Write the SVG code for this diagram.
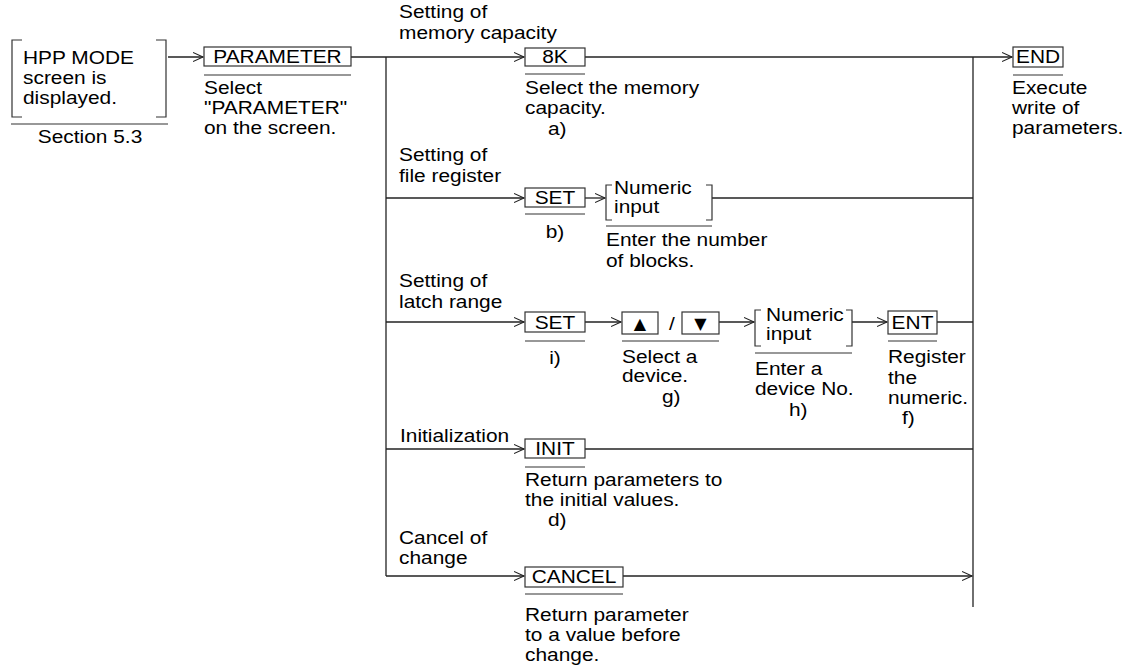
<svg xmlns="http://www.w3.org/2000/svg" width="1131" height="666" viewBox="0 0 1131 666">
<defs>
<style>
.t{font-family:"Liberation Sans",Arial,sans-serif;font-size:18.5px;fill:#000}
.m{text-anchor:middle}
.sym{font-family:"DejaVu Sans",sans-serif;font-size:16px;fill:#000;text-anchor:middle}
.box{fill:#fff;stroke:#333;stroke-width:1.2}
.ul{stroke:#333;stroke-width:1.2;fill:none}
.br{fill:none;stroke:#333;stroke-width:1.2}
.c{stroke:#222;stroke-width:1.3;fill:none}
</style>
<marker id="ah" markerWidth="12" markerHeight="12" refX="10" refY="6" orient="auto" markerUnits="userSpaceOnUse">
<path d="M0,1.5 L10,6 L0,10.5" fill="none" stroke="#222" stroke-width="1.1"/>
</marker>
</defs>
<rect width="1131" height="666" fill="#fff"/>

<g id="connectors">
<line class="c" x1="168" y1="57" x2="203" y2="57" marker-end="url(#ah)"/>
<line class="c" x1="351" y1="57" x2="524" y2="57" marker-end="url(#ah)"/>
<line class="c" x1="386" y1="57" x2="386" y2="576"/>
<line class="c" x1="585" y1="57" x2="1012" y2="57" marker-end="url(#ah)"/>
<line class="c" x1="973" y1="57" x2="973" y2="607"/>
<line class="c" x1="386" y1="198" x2="524" y2="198" marker-end="url(#ah)"/>
<line class="c" x1="585" y1="198" x2="605" y2="198" marker-end="url(#ah)"/>
<line class="c" x1="712" y1="198" x2="973" y2="198"/>
<line class="c" x1="386" y1="322" x2="524" y2="322" marker-end="url(#ah)"/>
<line class="c" x1="585" y1="322" x2="621" y2="322" marker-end="url(#ah)"/>
<line class="c" x1="719" y1="322" x2="754" y2="322" marker-end="url(#ah)"/>
<line class="c" x1="852" y1="322" x2="887" y2="322" marker-end="url(#ah)"/>
<line class="c" x1="937" y1="322" x2="973" y2="322"/>
<line class="c" x1="386" y1="449" x2="524" y2="449" marker-end="url(#ah)"/>
<line class="c" x1="585" y1="449" x2="973" y2="449"/>
<line class="c" x1="386" y1="576" x2="524" y2="576" marker-end="url(#ah)"/>
<line class="c" x1="623" y1="576" x2="972" y2="576" marker-end="url(#ah)"/>
</g>

<g id="branch-labels">
<text class="t" transform="translate(399,18) scale(1.13 1)"><tspan x="0">Setting of</tspan><tspan x="0" dy="21">memory capacity</tspan></text>
<text class="t" transform="translate(399,161) scale(1.13 1)"><tspan x="0">Setting of</tspan><tspan x="0" dy="21">file register</tspan></text>
<text class="t" transform="translate(399,287) scale(1.13 1)"><tspan x="0">Setting of</tspan><tspan x="0" dy="21">latch range</tspan></text>
<text class="t" transform="translate(400,442) scale(1.13 1)">Initialization</text>
<text class="t" transform="translate(399,544) scale(1.13 1)"><tspan x="0">Cancel of</tspan><tspan x="0" dy="20">change</tspan></text>
</g>

<g id="hpp">
<path class="br" d="M22,40 H12 V117 H22 M156,40 H166 V117 H156"/>
<line class="ul" x1="11" y1="124" x2="168" y2="124"/>
<text class="t" transform="translate(23,64) scale(1.13 1)"><tspan x="0">HPP MODE</tspan><tspan x="0" dy="20">screen is</tspan><tspan x="0" dy="20">displayed.</tspan></text>
<text class="t m" transform="translate(90,143) scale(1.13 1)">Section 5.3</text>
</g>

<g id="parameter">
<rect class="box" x="204" y="47" width="147" height="19"/>
<line class="ul" x1="204" y1="75" x2="351" y2="75"/>
<text class="t m" transform="translate(277.5,63) scale(1.13 1)">PARAMETER</text>
<text class="t" transform="translate(204,94) scale(1.13 1)"><tspan x="0">Select</tspan><tspan x="0" dy="20">"PARAMETER"</tspan><tspan x="0" dy="20">on the screen.</tspan></text>
</g>

<g id="k8">
<rect class="box" x="525" y="48" width="60" height="18"/>
<line class="ul" x1="525" y1="74" x2="585" y2="74"/>
<text class="t m" transform="translate(555,63) scale(1.13 1)">8K</text>
<text class="t" transform="translate(525,94) scale(1.13 1)"><tspan x="0">Select the memory</tspan><tspan x="0" dy="20">capacity.</tspan></text>
<text class="t" transform="translate(548,135) scale(1.13 1)">a)</text>
</g>

<g id="end">
<rect class="box" x="1013" y="47" width="50" height="20"/>
<line class="ul" x1="1013" y1="75" x2="1063" y2="75"/>
<text class="t m" transform="translate(1038,63) scale(1.13 1)">END</text>
<text class="t" transform="translate(1012,94) scale(1.13 1)"><tspan x="0">Execute</tspan><tspan x="0" dy="20">write of</tspan><tspan x="0" dy="20">parameters.</tspan></text>
</g>

<g id="set1">
<rect class="box" x="525" y="188" width="60" height="19"/>
<line class="ul" x1="525" y1="214" x2="585" y2="214"/>
<text class="t m" transform="translate(555,204) scale(1.13 1)">SET</text>
<text class="t m" transform="translate(555,238) scale(1.13 1)">b)</text>
</g>

<g id="numeric1">
<path class="br" d="M612,185 H606 V220 H612 M706,185 H712 V220 H706"/>
<line class="ul" x1="606" y1="226" x2="712" y2="226"/>
<text class="t" transform="translate(614,194) scale(1.13 1)"><tspan x="0">Numeric</tspan><tspan x="0" dy="19">input</tspan></text>
<text class="t" transform="translate(606,246) scale(1.13 1)"><tspan x="0">Enter the number</tspan><tspan x="0" dy="21">of blocks.</tspan></text>
</g>

<g id="set2">
<rect class="box" x="525" y="312" width="60" height="20"/>
<line class="ul" x1="525" y1="341" x2="585" y2="341"/>
<text class="t m" transform="translate(555,329) scale(1.13 1)">SET</text>
<text class="t m" transform="translate(555,364) scale(1.13 1)">i)</text>
</g>

<g id="updown">
<rect class="box" x="622" y="312" width="36" height="22"/>
<rect class="box" x="682" y="312" width="37" height="22"/>
<text class="sym" x="640" y="329">▲</text>
<text class="t" transform="translate(669,330) scale(1.13 1)">/</text>
<text class="sym" x="700.5" y="329">▼</text>
<line class="ul" x1="622" y1="341" x2="719" y2="341"/>
<text class="t" transform="translate(622,363) scale(1.13 1)"><tspan x="0">Select a</tspan><tspan x="0" dy="19">device.</tspan></text>
<text class="t" transform="translate(662,403) scale(1.13 1)">g)</text>
</g>

<g id="numeric2">
<path class="br" d="M761,310 H755 V346 H761 M846,310 H852 V346 H846"/>
<line class="ul" x1="755" y1="353" x2="852" y2="353"/>
<text class="t" transform="translate(766,321) scale(1.13 1)"><tspan x="0">Numeric</tspan><tspan x="0" dy="19">input</tspan></text>
<text class="t" transform="translate(755,375) scale(1.13 1)"><tspan x="0">Enter a</tspan><tspan x="0" dy="20">device No.</tspan></text>
<text class="t" transform="translate(789,416) scale(1.13 1)">h)</text>
</g>

<g id="ent">
<rect class="box" x="888" y="311" width="49" height="23"/>
<line class="ul" x1="888" y1="341" x2="937" y2="341"/>
<text class="t m" transform="translate(912.5,329) scale(1.13 1)">ENT</text>
<text class="t" transform="translate(888,363) scale(1.13 1)"><tspan x="0">Register</tspan><tspan x="0" dy="21">the</tspan><tspan x="0" dy="20">numeric.</tspan></text>
<text class="t" transform="translate(902,424) scale(1.13 1)">f)</text>
</g>

<g id="init">
<rect class="box" x="525" y="439" width="60" height="19"/>
<line class="ul" x1="525" y1="467" x2="585" y2="467"/>
<text class="t m" transform="translate(555,455) scale(1.13 1)">INIT</text>
<text class="t" transform="translate(525,486) scale(1.13 1)"><tspan x="0">Return parameters to</tspan><tspan x="0" dy="20">the initial values.</tspan></text>
<text class="t" transform="translate(548,526) scale(1.13 1)">d)</text>
</g>

<g id="cancel">
<rect class="box" x="525" y="567" width="98" height="20"/>
<line class="ul" x1="525" y1="594" x2="623" y2="594"/>
<text class="t m" transform="translate(574,583) scale(1.13 1)">CANCEL</text>
<text class="t" transform="translate(525,621) scale(1.13 1)"><tspan x="0">Return parameter</tspan><tspan x="0" dy="20">to a value before</tspan><tspan x="0" dy="20">change.</tspan></text>
</g>
</svg>
